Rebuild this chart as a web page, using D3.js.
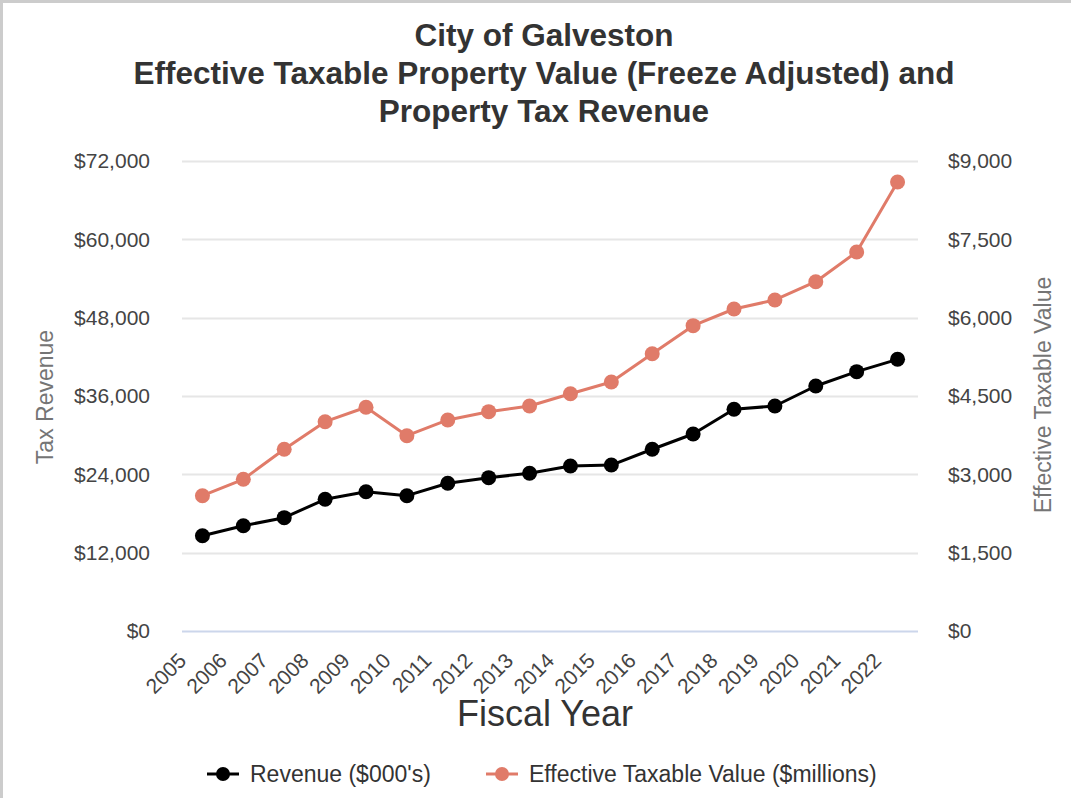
<!DOCTYPE html>
<html>
<head>
<meta charset="utf-8">
<script src="https://cdn.jsdelivr.net/npm/d3@7"></script>
<style>
  body { margin: 0; background: #fff; }
  svg { font-family: "Liberation Sans", Arial, sans-serif; display: block; }
</style>
</head>
<body>
<div id="chart"></div>
<script>
// data
var years = ["2005", "2006", "2007", "2008", "2009", "2010", "2011", "2012", "2013",
             "2014", "2015", "2016", "2017", "2018", "2019", "2020", "2021", "2022"];
var revenue = [14600, 16130, 17360, 20180, 21340, 20730, 22630, 23490, 24160,
               25280, 25420, 27840, 30180, 33960, 34470, 37530, 39730, 41620];
var taxableValue = [2591, 2905, 3480, 4008, 4284, 3740, 4041, 4200, 4309,
                    4544, 4768, 5310, 5847, 6166, 6339, 6689, 7258, 8598];
var leftTicks = [0, 12000, 24000, 36000, 48000, 60000, 72000];
var rightTicks = [0, 1500, 3000, 4500, 6000, 7500, 9000];
var titleLines = ["City of Galveston",
                  "Effective Taxable Property Value (Freeze Adjusted) and",
                  "Property Tax Revenue"];

var W = 1071, H = 798;
var margin = {top: 161, right: 153, bottom: 167, left: 182},
    width = W - margin.left - margin.right,
    height = H - margin.top - margin.bottom;

var orange = "#e07b69";

var root = d3.select("#chart")
    .append("svg")
    .attr("width", W)
    .attr("height", H);

// outer frame (only left and top edges visible in the crop)
root.append("path")
    .attr("d", "M1.5," + H + "V1.5H" + W)
    .attr("fill", "none")
    .attr("stroke", "#cccccc")
    .attr("stroke-width", 3);

root.append("g").selectAll("text")
    .data(titleLines)
    .enter()
    .append("text")
    .attr("x", 544)
    .attr("y", function(d, i) { return 46 + i * 38; })
    .attr("text-anchor", "middle")
    .attr("font-size", 31.5)
    .attr("font-weight", "bold")
    .attr("fill", "#333333")
    .text(function(d) { return d; });

var svg = root.append("g")
    .attr("transform", "translate(" + margin.left + "," + margin.top + ")");

var x = d3.scaleBand()
    .domain(years)
    .range([0, width]);

var yLeft = d3.scaleLinear()
    .domain([0, 72000])
    .range([height, 0]);

var yRight = d3.scaleLinear()
    .domain([0, 9000])
    .range([height, 0]);

var money = d3.format("$,");

// gridlines
svg.append("g")
    .selectAll("line")
    .data(leftTicks)
    .enter()
    .append("line")
    .attr("x1", 0)
    .attr("x2", width)
    .attr("y1", function(d) { return Math.round(yLeft(d)) + 0.5; })
    .attr("y2", function(d) { return Math.round(yLeft(d)) + 0.5; })
    .attr("stroke", function(d) { return d === 0 ? "#ccd6eb" : "#e6e6e6"; })
    .attr("stroke-width", 2);

// left axis
var gl = svg.append("g")
    .call(d3.axisLeft(yLeft).tickValues(leftTicks).tickFormat(money).tickSize(0).tickPadding(32));
gl.select(".domain").remove();
gl.selectAll("text")
    .attr("font-size", 21)
    .attr("font-family", "Liberation Sans, Arial, sans-serif")
    .attr("fill", "#444444");

// right axis
var gr = svg.append("g")
    .attr("transform", "translate(" + width + ",0)")
    .call(d3.axisRight(yRight).tickValues(rightTicks).tickFormat(money).tickSize(0).tickPadding(30));
gr.select(".domain").remove();
gr.selectAll("text")
    .attr("font-size", 21)
    .attr("font-family", "Liberation Sans, Arial, sans-serif")
    .attr("fill", "#444444");

// x labels, rotated
var gx = svg.append("g")
    .attr("transform", "translate(0," + height + ")")
    .call(d3.axisBottom(x).tickSize(0).tickPadding(0));
gx.select(".domain").remove();
gx.selectAll("text")
    .attr("font-size", 21)
    .attr("font-family", "Liberation Sans, Arial, sans-serif")
    .attr("fill", "#444444")
    .attr("text-anchor", "end")
    .attr("dy", null)
    .attr("y", 0)
    .attr("transform", "translate(-15,31) rotate(-45)");

// axis titles
root.append("text")
    .attr("transform", "translate(53,397) rotate(-90)")
    .attr("text-anchor", "middle")
    .attr("font-size", 23)
    .attr("fill", "#757575")
    .text("Tax Revenue");

root.append("text")
    .attr("transform", "translate(1051,395) rotate(-90)")
    .attr("text-anchor", "middle")
    .attr("font-size", 23)
    .attr("fill", "#757575")
    .text("Effective Taxable Value");

root.append("text")
    .attr("x", 545)
    .attr("y", 726)
    .attr("text-anchor", "middle")
    .attr("font-size", 36)
    .attr("fill", "#333333")
    .text("Fiscal Year");

// lines + markers
var cx = function(d, i) { return x(years[i]) + x.bandwidth() / 2; };

var series = [
  {name: "Revenue ($000's)", values: revenue, scale: yLeft, color: "#000000"},
  {name: "Effective Taxable Value ($millions)", values: taxableValue, scale: yRight, color: orange}
];

series.forEach(function(s) {
    var line = d3.line()
        .x(cx)
        .y(function(d) { return s.scale(d); });
    svg.append("path")
        .datum(s.values)
        .attr("d", line)
        .attr("fill", "none")
        .attr("stroke", s.color)
        .attr("stroke-width", 3)
        .attr("stroke-linejoin", "round");
    svg.append("g")
        .selectAll("circle")
        .data(s.values)
        .enter()
        .append("circle")
        .attr("cx", cx)
        .attr("cy", function(d) { return s.scale(d); })
        .attr("r", 7.5)
        .attr("fill", s.color);
});

// legend
var legendX = [207, 486];
var legend = root.append("g").selectAll("g")
    .data(series)
    .enter()
    .append("g")
    .attr("transform", function(d, i) { return "translate(" + legendX[i] + ",774)"; });
legend.append("line")
    .attr("x1", 0).attr("x2", 32)
    .attr("stroke", function(d) { return d.color; })
    .attr("stroke-width", 3);
legend.append("circle")
    .attr("cx", 16)
    .attr("r", 7)
    .attr("fill", function(d) { return d.color; });
legend.append("text")
    .attr("x", 43)
    .attr("y", 8)
    .attr("font-size", 23)
    .attr("fill", "#333333")
    .text(function(d) { return d.name; });
</script>
</body>
</html>
